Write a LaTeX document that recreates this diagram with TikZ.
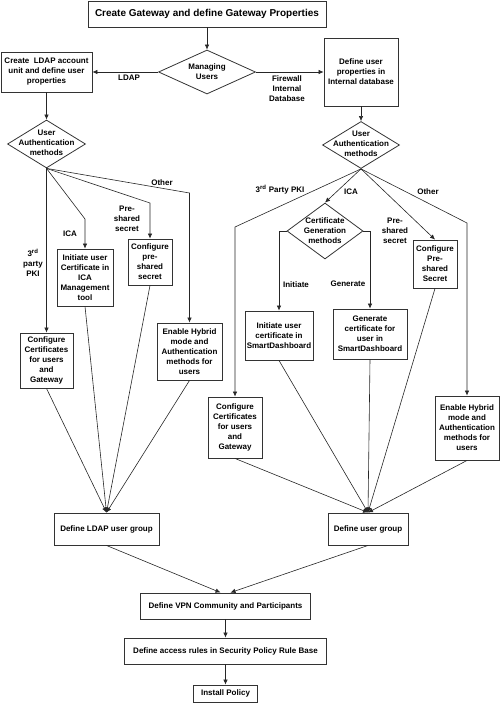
\documentclass[tikz,border=0pt]{standalone}
\usepackage{fontspec}
\setmainfont{Liberation Sans}
\usetikzlibrary{shapes.geometric,arrows.meta}
\begin{document}
\begin{tikzpicture}[x=1pt,y=-1pt,
  font=\fontsize{8}{10}\selectfont\bfseries,
  box/.style={draw=black!80,line width=0.9pt,rectangle,align=center,inner sep=1pt},
  dia/.style={draw=black!80,line width=0.8pt,diamond,inner sep=0pt,aspect=2},
  dtxt/.style={align=center,inner sep=0pt},
  lbl/.style={align=center,inner sep=0pt},
  arr/.style={draw=black!85,line width=0.6pt,-{Latex[length=5pt,width=4.5pt]}},
  ln/.style={draw=black!85,line width=0.6pt}]
\useasboundingbox (0,0) rectangle (500,703);

% boxes
\node[box,minimum width=238pt,minimum height=26pt,font=\fontsize{10}{12}\selectfont\bfseries] (top) at (207,14) {Create Gateway and define Gateway Properties};
\node[box,minimum width=91pt,minimum height=40pt] (ldap) at (46.5,72) {Create\ \ LDAP account\\unit and define user\\properties};
\node[box,minimum width=74pt,minimum height=68pt] (idb) at (361,72) {Define user\\properties in\\Internal database};
\node[box,minimum width=53pt,minimum height=55pt] (lcert) at (46.5,360.5) {Configure\\Certificates\\for users\\and\\Gateway};
\node[box,minimum width=56pt,minimum height=57pt] (lica) at (85,277.5) {Initiate user\\Certificate in\\ICA\\Management\\tool};
\node[box,minimum width=44pt,minimum height=46pt] (lpsk) at (150,262) {Configure\\pre-\\shared\\secret};
\node[box,minimum width=65pt,minimum height=57pt] (lhyb) at (189.5,351.5) {Enable Hybrid\\mode and\\Authentication\\methods for\\users};
\node[box,minimum width=105pt,minimum height=32pt] (lgrp) at (106.5,529) {Define LDAP user group};
\node[box,minimum width=54pt,minimum height=61pt] (rcert) at (235,427.5) {Configure\\Certificates\\for users\\and\\Gateway};
\node[box,minimum width=68pt,minimum height=49pt] (rini) at (279,335.5) {Initiate user\\certificate in\\SmartDashboard};
\node[box,minimum width=74pt,minimum height=50pt] (rgen) at (370,334) {Generate\\certificate for\\user in\\SmartDashboard};
\node[box,minimum width=44pt,minimum height=48pt] (rpsk) at (435,264) {Configure\\Pre-\\shared\\Secret};
\node[box,minimum width=64pt,minimum height=64pt] (rhyb) at (467,428) {Enable Hybrid\\mode and\\Authentication\\methods for\\users};
\node[box,minimum width=80pt,minimum height=32pt] (rgrp) at (368,529) {Define user group};
\node[box,minimum width=170pt,minimum height=26pt] (vpn) at (225.5,606) {Define VPN Community and Participants};
\node[box,minimum width=202pt,minimum height=26pt] (acc) at (225.5,651) {Define access rules in Security Policy Rule Base};
\node[box,minimum width=64pt,minimum height=17pt] (inst) at (225.5,693.5) {Install Policy};

% diamonds
\node[dia,minimum width=97pt,minimum height=44pt] (mu) at (207,72) {};
\node[dtxt] (muT) at (mu) {Managing\\Users};
\node[dia,minimum width=78pt,minimum height=48pt] (uaL) at (46.5,144) {};
\node[dtxt] (uaLT) at (46.5,143) {User\\Authentication\\methods};
\node[dia,minimum width=77pt,minimum height=47pt] (uaR) at (361,145) {};
\node[dtxt] (uaRT) at (361,144) {User\\Authentication\\methods};
\node[dia,minimum width=76pt,minimum height=56pt] (cg) at (325,231) {};
\node[dtxt] (cgT) at (325,231) {Certificate\\Generation\\methods};

% labels
\node[lbl] (lLDAP) at (129,78) {LDAP};
\node[lbl] (lFW) at (287,89) {Firewall\\Internal\\Database};
\node[lbl] (lPKI) at (33,263) {3\textsuperscript{rd}\\party\\PKI};
\node[lbl] (lICA) at (70,234) {ICA};
\node[lbl] (lPSK) at (127,219) {Pre-\\shared\\secret};
\node[lbl] (lOTH) at (162,183) {Other};
\node[lbl] (rPKI) at (280,190) {3\textsuperscript{rd} Party PKI};
\node[lbl] (rICA) at (351,192) {ICA};
\node[lbl] (rPSK) at (395,231) {Pre-\\shared\\secret};
\node[lbl] (rOTH) at (428,192) {Other};
\node[lbl] (rINI) at (296,285) {Initiate};
\node[lbl] (rGEN) at (348,284) {Generate};

% bend coordinates
\coordinate (kLica) at (85,219);
\coordinate (kLpsk) at (150,203);
\coordinate (kLhyb) at (189.5,193);
\coordinate (kRpki) at (235,227);
\coordinate (kRini) at (279,231);
\coordinate (kRgen) at (370,231);
\coordinate (kRhyb) at (467,223);

% connectors
\draw[arr] (top) -- (mu);
\draw[arr] (mu) -- (ldap);
\draw[arr] (mu) -- (idb);
\draw[arr] (ldap) -- (uaL);
\draw[arr] (idb) -- (uaR);

\draw[arr] (uaL.south) -- (lcert.north);
\draw[arr] (uaL.south) -- (kLica) -- (lica.north);
\draw[arr] (uaL.south) -- (kLpsk) -- (lpsk.north);
\draw[arr] (uaL.south) -- (kLhyb) -- (lhyb.north);

\draw[arr] (lcert.south) -- (lgrp.north);
\draw[arr] (lica.south) -- (lgrp.north);
\draw[arr] (lpsk.south) -- (lgrp.north);
\draw[arr] (lhyb.south) -- (lgrp.north);

\draw[arr] (uaR.south) -- (kRpki) -- (rcert.north);
\draw[arr] (uaR.south) -- (cg.north);
\draw[arr] (cg.west) -- (kRini) -- (rini.north);
\draw[arr] (cg.east) -- (kRgen) -- (rgen.north);
\draw[arr] (uaR.south) -- (rpsk.north);
\draw[arr] (uaR.south) -- (kRhyb) -- (rhyb.north);

\draw[arr] (rcert.south) -- (rgrp.north);
\draw[arr] (rini.south) -- (rgrp.north);
\draw[arr] (rgen.south) -- (rgrp.north);
\draw[arr] (rpsk.south) -- (rgrp.north);
\draw[arr] (rhyb.south) -- (rgrp.north);

\draw[arr] (lgrp.south) -- ([xshift=-5pt]vpn.north);
\draw[arr] (rgrp.south) -- ([xshift=5pt]vpn.north);
\draw[arr] (vpn) -- (acc);
\draw[arr] (acc) -- (inst);
\end{tikzpicture}
\end{document}
